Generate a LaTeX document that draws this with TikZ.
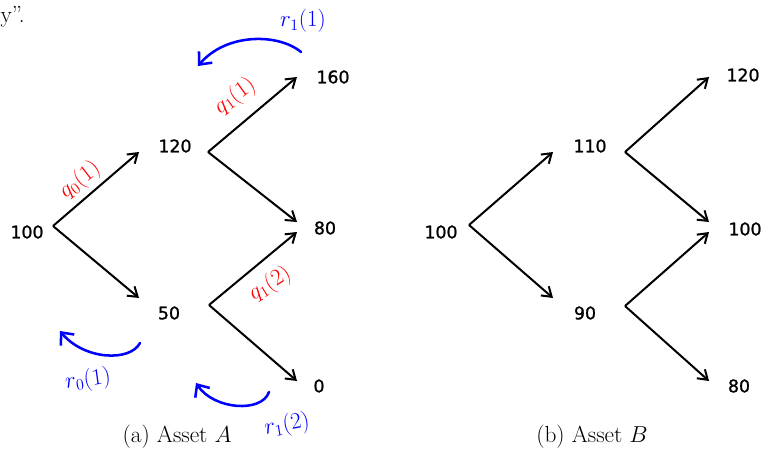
\documentclass[tikz,border=0pt]{standalone}
\usepackage{amsmath,amssymb}
\usepackage{fontspec}
\usepackage{tikz}
\usetikzlibrary{arrows.meta,calc}
\newfontfamily\valfont[FakeBold=1.2]{DejaVu Sans}
\tikzset{
  treearr/.style = {-{Straight Barb[length=2.4mm,width=3.2mm]}, line width=1.5pt, black},
  handarr/.style = {-{Straight Barb[length=2.6mm,width=4.6mm]}, line width=1.9pt, blue, line cap=round},
  valtxt/.style  = {font=\valfont\fontsize{13}{15}\selectfont, inner sep=0pt},
  captxt/.style  = {font=\fontsize{17.5}{21}\selectfont, inner sep=0pt},
  qlbl/.style    = {red, font=\fontsize{17}{19}\selectfont, inner sep=0pt},
  rlbl/.style    = {blue, font=\fontsize{17}{19}\selectfont, inner sep=0pt}
}

\begin{document}
\begin{tikzpicture}[x=0.75pt,y=-0.75pt]
  \useasboundingbox (0,0) rectangle (762,454);
  \clip (0,0) rectangle (762,454);
  % --- end of the sentence above the figure ---------------------------------
  \node[captxt,anchor=east] (prev) at (25,17) {y''.};

  % --- (a) asset A ------------------------------------------------------------
  % branching points and arrow tips
  \coordinate (a0)   at (53,226);
  \coordinate (a1ui) at (139,152);
  \coordinate (a1di) at (139,298);
  \coordinate (a1uo) at (208,152);
  \coordinate (a1do) at (209,305);
  \coordinate (a2uu) at (297,77);
  \coordinate (a2ud) at (297,222);
  \coordinate (a2du) at (297,232);
  \coordinate (a2dd) at (297,381);
  % prices
  \node[valtxt] (pa0)  at (27,232)  {100};
  \node[valtxt] (pa1u) at (175,146) {120};
  \node[valtxt] (pa1d) at (169,313) {50};
  \node[valtxt] (pa2u) at (333,77)  {160};
  \node[valtxt] (pa2m) at (325,228) {80};
  \node[valtxt] (pa2d) at (319,386) {0};
  % the moves
  \draw[treearr] (a0) -- (a1ui);
  \draw[treearr] (a0) -- (a1di);
  \draw[treearr] (a1uo) -- (a2uu);
  \draw[treearr] (a1uo) -- (a2ud);
  \draw[treearr] (a1do) -- (a2du);
  \draw[treearr] (a1do) -- (a2dd);
  \node[captxt] (capa) at (177,437) {(a)\ Asset $A$};

  % handwritten notes: probabilities along the up moves
  \node[qlbl,rotate=38] (q01) at (80,180) {$q_0(1)$};
  \node[qlbl,rotate=36] (q11) at (235,96)  {$q_1(1)$};
  \node[qlbl,rotate=32] (q12) at (270,284) {$q_1(2)$};
  % handwritten notes: rates, with hooked arrows
  \coordinate (r11s) at (301,52);
  \coordinate (r11e) at (198,66);
  \draw[handarr] (r11s) .. controls (278,33) and (226,33) .. (r11e);
  \node[rlbl] (r11) at (303,21) {$r_1(1)$};
  \coordinate (r01s) at (140,343);
  \coordinate (r01e) at (60,331);
  \draw[handarr] (r01s) .. controls (130,362) and (84,360) .. (r01e);
  \node[rlbl,rotate=8] (r01) at (88,380) {$r_0(1)$};
  \coordinate (r12s) at (269,392);
  \coordinate (r12e) at (196,383);
  \draw[handarr] (r12s) .. controls (262,413) and (214,410) .. (r12e);
  \node[rlbl,rotate=10] (r12) at (287,425) {$r_1(2)$};

  % --- (b) asset B ------------------------------------------------------------
  \begin{scope}[shift={(416,0)}]
    \coordinate (b0)   at (53,225);
    \coordinate (b1ui) at (137,152);
    \coordinate (b1di) at (137,298);
    \coordinate (b1uo) at (209,152);
    \coordinate (b1do) at (209,306);
    \coordinate (b2uu) at (293,77);
    \coordinate (b2ud) at (293,222);
    \coordinate (b2du) at (293,232);
    \coordinate (b2dd) at (293,381);
    \node[valtxt] (pb0)  at (25,232)  {100};
    \node[valtxt] (pb1u) at (174,146) {110};
    \node[valtxt] (pb1d) at (169,313) {90};
    \node[valtxt] (pb2u) at (327,75)  {120};
    \node[valtxt] (pb2m) at (329,229) {100};
    \node[valtxt] (pb2d) at (323,386) {80};
    \draw[treearr] (b0) -- (b1ui);
    \draw[treearr] (b0) -- (b1di);
    \draw[treearr] (b1uo) -- (b2uu);
    \draw[treearr] (b1uo) -- (b2ud);
    \draw[treearr] (b1do) -- (b2du);
    \draw[treearr] (b1do) -- (b2dd);
    \node[captxt] (capb) at (176,437) {(b)\ Asset $B$};
  \end{scope}
\end{tikzpicture}
\end{document}
